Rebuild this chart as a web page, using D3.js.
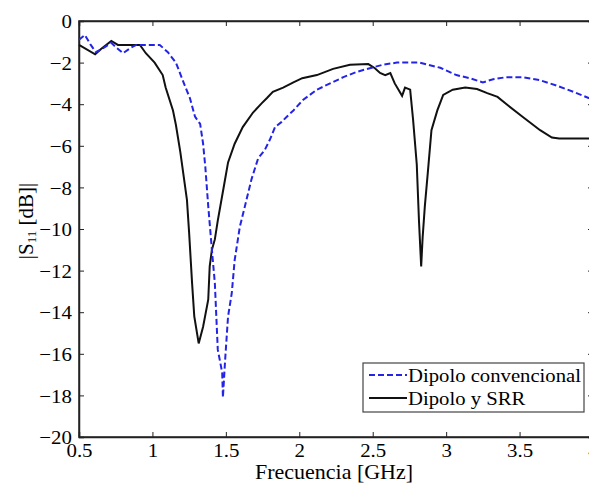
<!DOCTYPE html>
<html><head><meta charset="utf-8">
<script src="https://cdn.jsdelivr.net/npm/d3@7"></script>
<style>
html,body{margin:0;padding:0;background:#fff;overflow:hidden;}
svg{display:block;}
svg text{font-family:"Liberation Serif","Times New Roman",Times,"DejaVu Serif",serif !important;}
</style></head>
<body>
<svg id="chart" width="589" height="484"></svg>
<script>
// Frequency [GHz] and |S11| [dB]
const convFreq = [0.5,0.54,0.58,0.615,0.665,0.72,0.75,0.8,0.85,0.89,1.05,1.105,1.16,1.22,1.255,1.29,1.325,1.345,1.36,1.38,1.405,1.425,1.445,1.475,1.48,1.495,1.515,1.54,1.56,1.595,1.63,1.675,1.72,1.765,1.80,1.835,1.88,1.915,1.96,2.025,2.12,2.21,2.30,2.39,2.48,2.57,2.665,2.82,2.96,3.07,3.16,3.25,3.32,3.41,3.52,3.64,3.75,3.865,3.97,4.0];
const convS11  = [-0.9,-0.67,-1.15,-1.5,-1.3,-1.05,-1.25,-1.55,-1.3,-1.15,-1.15,-1.5,-2.0,-3.1,-3.7,-4.6,-4.95,-5.9,-7.0,-8.9,-11.0,-12.6,-15.8,-16.9,-18.1,-16.3,-14.2,-13.1,-11.5,-9.9,-8.9,-7.6,-6.6,-6.2,-5.7,-5.1,-4.85,-4.6,-4.3,-3.8,-3.3,-3.0,-2.7,-2.45,-2.27,-2.1,-2.0,-2.0,-2.25,-2.6,-2.75,-2.95,-2.8,-2.7,-2.7,-2.85,-3.1,-3.4,-3.7,-3.75];

const srrFreq = [0.5,0.61,0.65,0.72,0.765,0.915,0.955,1.015,1.07,1.09,1.14,1.16,1.19,1.235,1.25,1.27,1.285,1.30,1.315,1.345,1.38,1.39,1.405,1.425,1.445,1.49,1.515,1.56,1.615,1.685,1.745,1.78,1.82,1.89,1.96,2.02,2.12,2.23,2.345,2.47,2.515,2.55,2.585,2.62,2.65,2.70,2.72,2.755,2.775,2.80,2.815,2.83,2.84,2.855,2.875,2.90,2.94,2.98,3.045,3.13,3.21,3.28,3.35,3.42,3.52,3.64,3.72,3.77,4.0];
const srrS11  = [-1.15,-1.6,-1.35,-0.96,-1.15,-1.15,-1.55,-2.0,-2.6,-3.2,-4.3,-5.0,-6.3,-8.6,-10.2,-12.6,-14.2,-14.85,-15.5,-14.7,-13.4,-11.8,-11.0,-10.5,-9.6,-7.8,-6.8,-5.9,-5.1,-4.4,-3.95,-3.7,-3.4,-3.2,-2.95,-2.75,-2.6,-2.3,-2.1,-2.07,-2.27,-2.5,-2.6,-2.5,-3.0,-3.6,-3.2,-3.3,-4.75,-6.9,-9.6,-11.8,-10.4,-8.9,-7.3,-5.25,-4.3,-3.55,-3.3,-3.2,-3.27,-3.47,-3.65,-4.05,-4.6,-5.25,-5.6,-5.65,-5.65];

const xTicks = [0.5,1,1.5,2,2.5,3,3.5,4];
const xTickLabels = ["0.5","1","1.5","2","2.5","3","3.5","4"];
const yTicks = [0,-2,-4,-6,-8,-10,-12,-14,-16,-18,-20];
const seriesNames = ["Dipolo convencional","Dipolo y SRR"];

const L = 79, R = 593, T = 21, B = 437;
const SX = 1.1; // horizontal stretch of text as in the reference
const svg = d3.select("#chart");
const x = d3.scaleLinear().domain([0.5,4]).range([L,R]);
const y = d3.scaleLinear().domain([0,-20]).range([T,B]);

svg.append("rect").attr("x",L).attr("y",T).attr("width",R-L).attr("height",B-T)
  .attr("fill","#fff").attr("stroke","#222").attr("stroke-width",1.5);

const axB = d3.axisBottom(x).tickValues(xTicks).tickSize(-5).tickPadding(7)
  .tickFormat((d,i)=>xTickLabels[i]);
const gB = svg.append("g").attr("transform",`translate(0,${B})`).call(axB);
const gT = svg.append("g").attr("transform",`translate(0,${T})`)
  .call(d3.axisTop(x).tickValues(xTicks).tickSize(-5).tickFormat(""));
const axL = d3.axisLeft(y).tickValues(yTicks).tickSize(-5).tickPadding(7).tickFormat(d3.format("d"));
const gL = svg.append("g").attr("transform",`translate(${L},0)`).call(axL);
const gR = svg.append("g").attr("transform",`translate(${R},0)`)
  .call(d3.axisRight(y).tickValues(yTicks).tickSize(-5).tickFormat(""));
[gB,gT,gL,gR].forEach(g=>{
  g.attr("font-family",null);
  g.select(".domain").attr("stroke","#222").attr("stroke-width",1.5);
  g.selectAll(".tick line").attr("stroke","#222").attr("stroke-width",1);
  g.selectAll("text").attr("fill","#000").style("font-size","19px");
});
gL.selectAll("text").attr("dy","0.35em").attr("x",-7/SX).attr("transform",`scale(${SX},1)`);
gB.selectAll("text").attr("dy","0.71em").attr("transform",`scale(${SX},1)`);

const line = d3.line().x(d=>x(d[0])).y(d=>y(d[1]));
const convData = convFreq.map((f,i)=>[f,convS11[i]]);
const srrData = srrFreq.map((f,i)=>[f,srrS11[i]]);
svg.append("path").datum(srrData).attr("d",line).attr("fill","none")
  .attr("stroke","#111").attr("stroke-width",2);
svg.append("path").datum(convData).attr("d",line).attr("fill","none")
  .attr("stroke","#2424e6").attr("stroke-width",2).attr("stroke-dasharray","6,3");

svg.append("text").attr("transform",`translate(334,479) scale(${SX},1)`).attr("text-anchor","middle")
  .style("font-size","20px").attr("fill","#000").text("Frecuencia [GHz]");
const yt = svg.append("text").attr("transform","translate(33,221) rotate(-90)")
  .attr("text-anchor","middle").style("font-size","21px").attr("fill","#000");
yt.append("tspan").text("|S");
yt.append("tspan").attr("dy",3).style("font-size","13px").text("11");
yt.append("tspan").attr("dy",-3).text(" [dB]|");

const lg = svg.append("g");
lg.append("rect").attr("x",363).attr("y",363).attr("width",221).attr("height",49)
  .attr("fill","#fff").attr("stroke","#444").attr("stroke-width",1.2);
const rows = [{y:375,color:"#2424e6",dash:"6,3"},{y:398,color:"#111",dash:null}];
rows.forEach((r,i)=>{
  lg.append("line").attr("x1",369).attr("x2",407).attr("y1",r.y).attr("y2",r.y)
    .attr("stroke",r.color).attr("stroke-width",2).attr("stroke-dasharray",r.dash);
  lg.append("text").attr("transform",`translate(408,${r.y+7}) scale(1.09,1)`).style("font-size","19px")
    .attr("fill","#000").text(seriesNames[i]);
});
</script>
</body></html>
